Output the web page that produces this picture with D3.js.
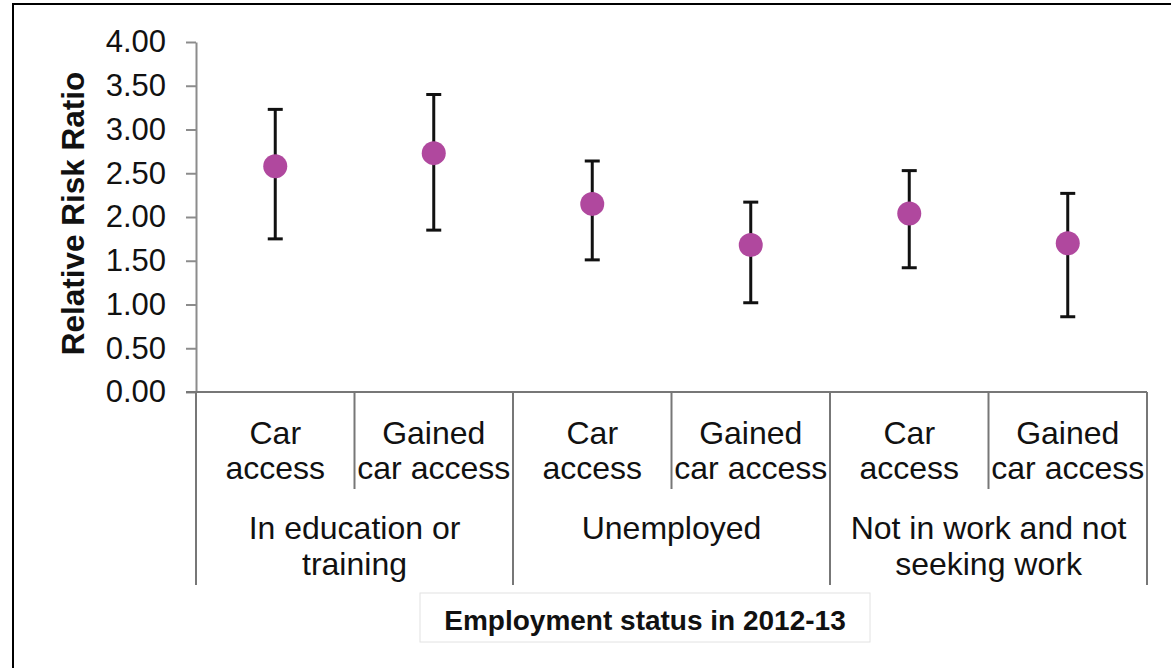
<!DOCTYPE html>
<html>
<head>
<meta charset="utf-8">
<script src="https://cdn.jsdelivr.net/npm/d3@7/dist/d3.min.js"></script>
<style>
  html, body { margin: 0; padding: 0; background: #fff; }
  svg { display: block; }
  text { font-family: "Liberation Sans", Arial, Helvetica, sans-serif; fill: #111; }
</style>
</head>
<body>
<svg id="chart" width="1171" height="668"></svg>
<script>
// Employment status groups (two-line labels) and car-access subcategories
const groupLabels = [
  ["In education or", "training"],
  ["Unemployed"],
  ["Not in work and not", "seeking work"]
];
const subLabels = [
  ["Car", "access"], ["Gained", "car access"],
  ["Car", "access"], ["Gained", "car access"],
  ["Car", "access"], ["Gained", "car access"]
];
// Relative risk ratio with 95% confidence interval
const riskRatio = [2.58, 2.73, 2.15, 1.68, 2.04, 1.70];
const ciLower   = [1.75, 1.85, 1.51, 1.02, 1.42, 0.86];
const ciUpper   = [3.23, 3.40, 2.64, 2.17, 2.53, 2.27];
const yTicks = [0, 0.5, 1, 1.5, 2, 2.5, 3, 3.5, 4];

const svg = d3.select("#chart");

// outer frame
svg.append("rect")
  .attr("x", 13).attr("y", 4)
  .attr("width", 1200).attr("height", 700)
  .attr("fill", "#fff").attr("stroke", "#000").attr("stroke-width", 2);

const plotLeft = 196, plotRight = 1147, plotTop = 42, plotBottom = 392;
const idx = d3.range(riskRatio.length);

const x = d3.scaleBand().domain(idx).range([plotLeft, plotRight]).padding(0);
const y = d3.scaleLinear().domain([0, 4]).range([plotBottom, plotTop]);

// y axis
const yAxis = svg.append("g")
  .attr("transform", `translate(${plotLeft},0)`)
  .call(d3.axisLeft(y).tickValues(yTicks).tickFormat(d3.format(".2f"))
    .tickSize(10).tickSizeOuter(0).tickPadding(20));
yAxis.select(".domain").attr("stroke", "#8c8c8c").attr("stroke-width", 2);
yAxis.selectAll(".tick line").attr("stroke", "#8c8c8c").attr("stroke-width", 2);
yAxis.selectAll(".tick text")
  .attr("font-size", 31).attr("fill", "#111")
  .style("font-family", '"Liberation Sans", Arial, sans-serif');

// y axis title
svg.append("text")
  .attr("transform", `translate(84,${(70 + 357) / 2}) rotate(-90)`)
  .attr("text-anchor", "middle")
  .attr("font-size", 31.5).attr("font-weight", "bold")
  .text("Relative Risk Ratio");

// category axis baseline
svg.append("line")
  .attr("x1", plotLeft - 10).attr("x2", plotRight)
  .attr("y1", plotBottom).attr("y2", plotBottom)
  .attr("stroke", "#777").attr("stroke-width", 2);

// dividers: group boundaries run the full depth, inner ones stop below subcategory labels
const boundaries = d3.range(riskRatio.length + 1);
svg.append("g").selectAll("line").data(boundaries).join("line")
  .attr("x1", d => d < idx.length ? x(d) : x(idx.length - 1) + x.bandwidth())
  .attr("x2", d => d < idx.length ? x(d) : x(idx.length - 1) + x.bandwidth())
  .attr("y1", plotBottom)
  .attr("y2", d => d % 2 === 0 ? 585 : 489)
  .attr("stroke", "#777").attr("stroke-width", 2);

// subcategory labels
const subG = svg.append("g").selectAll("text").data(idx).join("text")
  .attr("x", d => x(d) + x.bandwidth() / 2)
  .attr("text-anchor", "middle")
  .attr("font-size", 32);
subG.selectAll("tspan").data(d => subLabels[d].map(t => ({ t, d }))).join("tspan")
  .attr("x", o => x(o.d) + x.bandwidth() / 2)
  .attr("y", (o, i) => 444 + i * 35)
  .text(o => o.t);

// group labels
const gx = g => (x(g * 2) + x(g * 2 + 1) + x.bandwidth()) / 2;
const grpG = svg.append("g").selectAll("text").data(groupLabels).join("text")
  .attr("text-anchor", "middle")
  .attr("font-size", 32);
grpG.selectAll("tspan").data((lines, g) => lines.map(t => ({ t, g }))).join("tspan")
  .attr("x", o => gx(o.g))
  .attr("y", (o, i) => 539 + i * 36)
  .text(o => o.t);

// x axis title in a box
svg.append("rect")
  .attr("x", 420).attr("y", 593).attr("width", 450).attr("height", 49)
  .attr("fill", "#fff").attr("stroke", "#e2e2e2").attr("stroke-width", 1);
svg.append("text")
  .attr("x", 645).attr("y", 630)
  .attr("text-anchor", "middle")
  .attr("font-size", 28).attr("font-weight", "bold")
  .text("Employment status in 2012-13");

// confidence interval bars
const cx = d => x(d) + x.bandwidth() / 2;
const bars = svg.append("g").attr("stroke", "#111").attr("stroke-width", 3);
bars.selectAll("line.ci").data(idx).join("line").attr("class", "ci")
  .attr("x1", cx).attr("x2", cx)
  .attr("y1", d => y(ciLower[d])).attr("y2", d => y(ciUpper[d]));
bars.selectAll("line.capHi").data(idx).join("line").attr("class", "capHi")
  .attr("x1", d => cx(d) - 7.5).attr("x2", d => cx(d) + 7.5)
  .attr("y1", d => y(ciUpper[d])).attr("y2", d => y(ciUpper[d]));
bars.selectAll("line.capLo").data(idx).join("line").attr("class", "capLo")
  .attr("x1", d => cx(d) - 7.5).attr("x2", d => cx(d) + 7.5)
  .attr("y1", d => y(ciLower[d])).attr("y2", d => y(ciLower[d]));

// point estimates
svg.append("g").selectAll("circle").data(idx).join("circle")
  .attr("cx", cx)
  .attr("cy", d => y(riskRatio[d]))
  .attr("r", 12)
  .attr("fill", "#b0489e");
</script>
</body>
</html>
